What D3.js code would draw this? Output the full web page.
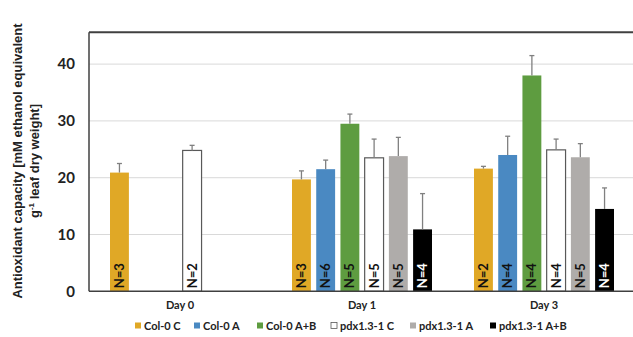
<!DOCTYPE html>
<html>
<head>
<meta charset="utf-8">
<script src="https://cdn.jsdelivr.net/npm/d3@7"></script>
<style>
  html, body { margin: 0; padding: 0; background: #fff; }
  svg { display: block; font-family: Lato, "Open Sans", sans-serif; font-weight: 700; }
</style>
</head>
<body>
<svg id="chart" width="633" height="337"></svg>
<script>
// Sampling days (x groups) and treatment series
const days = ["Day 0", "Day 1", "Day 3"];
const series = ["Col-0 C", "Col-0 A", "Col-0 A+B", "pdx1.3-1 C", "pdx1.3-1 A", "pdx1.3-1 A+B"];
const colors = ["#e0a826", "#4a89c2", "#5e9c40", "#ffffff", "#afacaa", "#000000"];

// Mean antioxidant capacity per series, one value per day (null = not measured)
const colC   = [20.9, 19.7, 21.6];
const colA   = [null, 21.5, 24.0];
const colAB  = [null, 29.5, 38.0];
const pdxC   = [24.8, 23.5, 24.9];
const pdxA   = [null, 23.8, 23.6];
const pdxAB  = [null, 10.9, 14.5];

// Standard errors (upper whisker only)
const colCErr  = [1.6, 1.5, 0.4];
const colAErr  = [null, 1.6, 3.3];
const colABErr = [null, 1.7, 3.5];
const pdxCErr  = [0.9, 3.3, 1.9];
const pdxAErr  = [null, 3.3, 2.4];
const pdxABErr = [null, 6.3, 3.7];

// Sample sizes
const colCN  = [3, 3, 2];
const colAN  = [null, 6, 4];
const colABN = [null, 5, 4];
const pdxCN  = [2, 5, 4];
const pdxAN  = [null, 5, 5];
const pdxABN = [null, 4, 4];

const yTicks = [0, 10, 20, 30, 40];

const values = [colC, colA, colAB, pdxC, pdxA, pdxAB];
const errors = [colCErr, colAErr, colABErr, pdxCErr, pdxAErr, pdxABErr];
const counts = [colCN, colAN, colABN, pdxCN, pdxAN, pdxABN];

const records = [];
series.forEach((s, si) => {
  days.forEach((d, di) => {
    if (values[si][di] != null) {
      records.push({ series: s, si, day: d, value: values[si][di], err: errors[si][di], n: counts[si][di] });
    }
  });
});

const svg = d3.select("#chart");
const plot = { left: 89, right: 635, top: 32.3, bottom: 291.3 };

const x0 = d3.scaleBand().domain(days).range([plot.left, plot.right]).padding(0);
const x1 = d3.scaleBand().domain(series).range([21, 161]).paddingInner(0.22).paddingOuter(0);
const y = d3.scaleLinear().domain([0, 45.6]).range([plot.bottom, plot.top]);

// Horizontal gridlines
svg.append("g")
  .selectAll("line")
  .data(yTicks.filter(t => t > 0))
  .join("line")
  .attr("x1", plot.left).attr("x2", plot.right)
  .attr("y1", d => y(d)).attr("y2", d => y(d))
  .attr("stroke", "#d9d9d9").attr("stroke-width", 1);

// Y axis tick labels
const yAxis = d3.axisLeft(y).tickValues(yTicks).tickSize(0).tickPadding(14);
svg.append("g")
  .attr("transform", `translate(${plot.left},0)`)
  .call(yAxis)
  .call(g => g.select(".domain").remove())
  .call(g => g.selectAll("text")
    .attr("font-family", "Lato, sans-serif")
    .attr("font-weight", 700)
    .attr("font-size", 15)
    .attr("fill", "#222"));

// Bars
const bars = svg.append("g");
bars.selectAll("rect")
  .data(records)
  .join("rect")
  .attr("x", d => x0(d.day) + x1(d.series))
  .attr("width", x1.bandwidth())
  .attr("y", d => y(d.value))
  .attr("height", d => y(0) - y(d.value))
  .attr("fill", d => colors[d.si])
  .attr("stroke", d => d.si === 3 ? "#595959" : "none")
  .attr("stroke-width", 1.2);

// Error whiskers
const errG = svg.append("g").attr("stroke", "#808080").attr("stroke-width", 1.3);
records.forEach(d => {
  const cx = x0(d.day) + x1(d.series) + x1.bandwidth() / 2;
  errG.append("line")
    .attr("x1", cx).attr("x2", cx)
    .attr("y1", y(d.value)).attr("y2", y(d.value + d.err));
  errG.append("line")
    .attr("x1", cx - 2.5).attr("x2", cx + 2.5)
    .attr("y1", y(d.value + d.err)).attr("y2", y(d.value + d.err));
});

// Sample-size labels inside bars
svg.append("g")
  .selectAll("text")
  .data(records)
  .join("text")
  .attr("transform", d => `translate(${x0(d.day) + x1(d.series) + x1.bandwidth() / 2 + 4.5},${y(0) - 3}) rotate(-90)`)
  .attr("font-size", 13)
  .attr("font-weight", 700)
  .attr("font-family", "Lato, sans-serif")
  .attr("fill", d => d.si === 5 ? "#fff" : "#111")
  .text(d => `N=${d.n}`);

// Frame: left axis, top border, baseline
svg.append("line")
  .attr("x1", plot.left).attr("x2", plot.left)
  .attr("y1", plot.top).attr("y2", plot.bottom)
  .attr("stroke", "#404040").attr("stroke-width", 1.5);
svg.append("line")
  .attr("x1", plot.left).attr("x2", plot.right)
  .attr("y1", plot.top).attr("y2", plot.top)
  .attr("stroke", "#404040").attr("stroke-width", 2);
svg.append("line")
  .attr("x1", plot.left).attr("x2", plot.right)
  .attr("y1", plot.bottom).attr("y2", plot.bottom)
  .attr("stroke", "#404040").attr("stroke-width", 1.5);

// Day labels
const xAxis = d3.axisBottom(x0).tickSize(0).tickPadding(10);
svg.append("g")
  .attr("transform", `translate(0,${plot.bottom})`)
  .call(xAxis)
  .call(g => g.select(".domain").remove())
  .call(g => g.selectAll("text")
    .attr("font-family", "Lato, sans-serif")
    .attr("font-weight", 700)
    .attr("font-size", 11)
    .attr("fill", "#222"));

// Y axis title (two lines)
const title = svg.append("text")
  .attr("transform", "translate(22,161) rotate(-90)")
  .attr("text-anchor", "middle")
  .attr("font-family", "'Liberation Sans', Arial, sans-serif")
  .attr("font-size", 13)
  .attr("fill", "#222");
title.append("tspan").attr("x", 0).attr("dy", 0).text("Antioxidant capacity [mM ethanol equivalent");
const l2 = title.append("tspan").attr("x", 0).attr("dy", 17);
l2.append("tspan").text("g");
l2.append("tspan").attr("dy", -5).attr("font-size", 8).text("-1");
l2.append("tspan").attr("dy", 5).text(" leaf dry weight]");

// Legend
const legendX = [135, 194, 257, 331, 410, 490];
const legend = svg.append("g");
series.forEach((s, i) => {
  const g = legend.append("g").attr("transform", `translate(${legendX[i]},326)`);
  g.append("rect")
    .attr("x", 0).attr("y", -3.5).attr("width", 6).attr("height", 6)
    .attr("fill", colors[i])
    .attr("stroke", i === 3 ? "#595959" : "none")
    .attr("stroke-width", 0.8);
  g.append("text")
    .attr("x", 9).attr("dy", "0.35em")
    .attr("font-size", 11)
    .attr("font-family", "Lato, sans-serif")
    .attr("font-weight", 700)
    .attr("fill", "#222")
    .text(s);
});
</script>
</body>
</html>
